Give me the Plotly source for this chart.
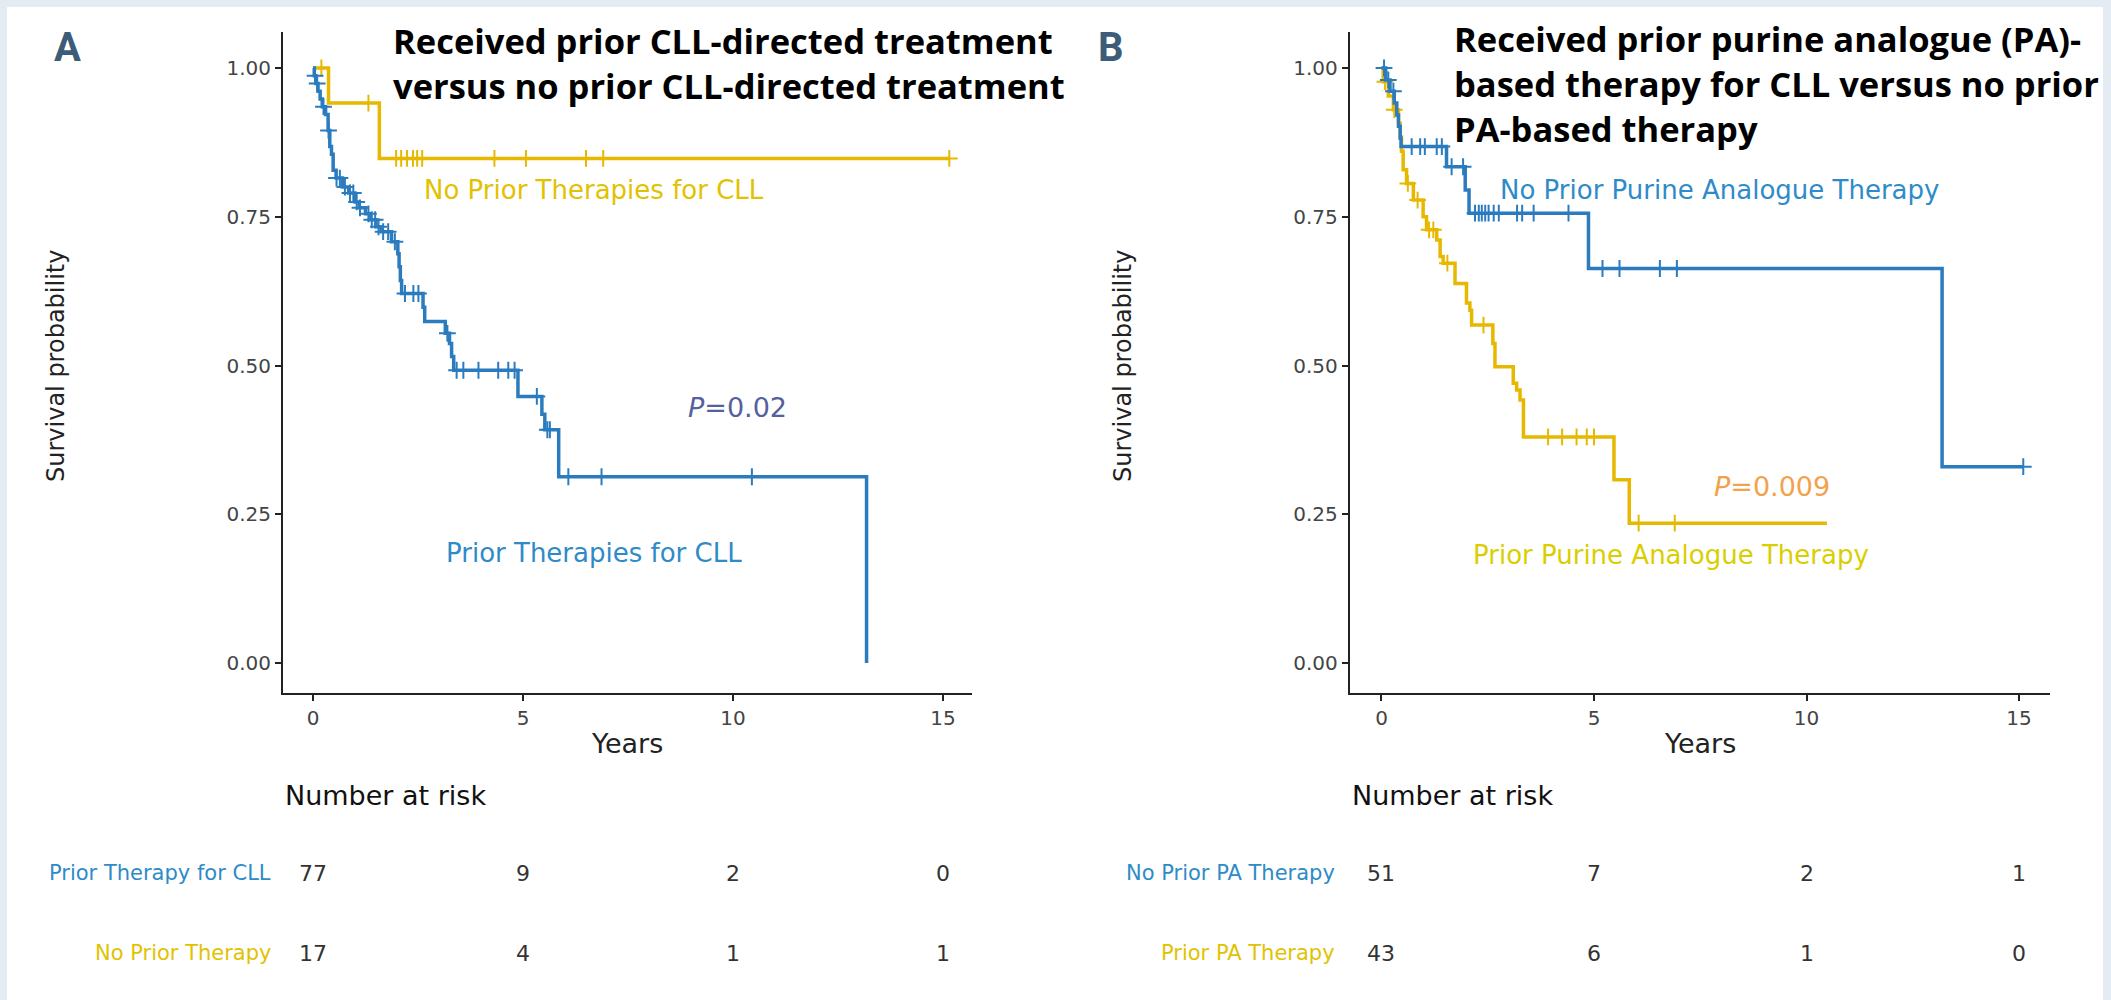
import plotly.graph_objects as go

W, H = 2111, 1000

# ---------------- data ----------------
year_ticks = [0, 5, 10, 15]
year_tick_text = ["0", "5", "10", "15"]
surv_ticks = [0.0, 0.25, 0.5, 0.75, 1.0]
surv_tick_text = ["0.00", "0.25", "0.50", "0.75", "1.00"]

# Panel A - prior CLL-directed treatment (step times / survival after each step)
a_prior_t = [0, 0.03, 0.07, 0.12, 0.17, 0.22, 0.30, 0.36, 0.40, 0.44, 0.48, 0.55,
             0.70, 0.85, 1.00, 1.10, 1.25, 1.35, 1.50, 1.62, 1.87, 2.02, 2.05,
             2.08, 2.11, 2.62, 2.66, 3.15, 3.25, 3.30, 3.35, 4.88, 5.45, 5.52,
             5.85, 13.18]
a_prior_s = [1.0, 0.987, 0.974, 0.961, 0.948, 0.935, 0.922, 0.895, 0.868, 0.855,
             0.828, 0.815, 0.800, 0.790, 0.775, 0.765, 0.755, 0.745, 0.733, 0.725,
             0.708, 0.688, 0.666, 0.643, 0.621, 0.598, 0.574, 0.554, 0.537, 0.515,
             0.492, 0.448, 0.418, 0.392, 0.313, 0.0]
a_prior_cens = [0.05, 0.10, 0.25, 0.37, 0.56, 0.64, 0.76, 0.88, 0.96, 1.04, 1.12,
                1.32, 1.40, 1.48, 1.56, 1.67, 1.79, 1.95, 2.19, 2.39, 2.51, 3.20,
                3.42, 3.58, 3.94, 4.41, 4.65, 4.80, 5.33, 5.58, 5.64, 6.08, 6.87,
                10.45]

# Panel A - no prior CLL-directed treatment
a_none_t = [0, 0.37, 1.58, 15.15]
a_none_s = [1.0, 0.941, 0.848, 0.848]
a_none_cens = [0.20, 1.32, 1.98, 2.10, 2.24, 2.38, 2.48, 2.60, 4.32, 5.07, 6.50,
               6.91, 15.15]

a_risk_prior = [77, 9, 2, 0]
a_risk_none = [17, 4, 1, 1]

# Panel B - no prior purine analogue therapy
b_nopa_t = [0, 0.10, 0.20, 0.30, 0.36, 0.40, 0.44, 0.46, 1.53, 1.97, 2.06, 4.87,
            13.19, 15.10]
b_nopa_s = [1.0, 0.980, 0.961, 0.941, 0.921, 0.902, 0.882, 0.868, 0.834, 0.795,
            0.756, 0.663, 0.330, 0.330]
b_nopa_cens = [0.06, 0.16, 0.28, 0.71, 0.91, 1.02, 1.30, 1.42, 1.65, 1.92, 2.20,
               2.29, 2.36, 2.44, 2.52, 2.64, 2.76, 3.19, 3.31, 3.58, 4.40, 5.20,
               5.60, 6.55, 6.95, 15.10]

# Panel B - prior purine analogue therapy
b_pa_t = [0, 0.04, 0.16, 0.28, 0.40, 0.44, 0.47, 0.51, 0.59, 0.75, 0.98, 1.06,
          1.30, 1.38, 1.45, 1.73, 2.00, 2.08, 2.12, 2.62, 2.67, 3.10, 3.18, 3.26,
          3.34, 5.47, 5.83, 10.48]
b_pa_s = [1.0, 0.977, 0.953, 0.930, 0.907, 0.884, 0.860, 0.829, 0.806, 0.778,
          0.750, 0.728, 0.711, 0.683, 0.672, 0.638, 0.605, 0.593, 0.568, 0.537,
          0.498, 0.470, 0.459, 0.442, 0.380, 0.308, 0.235, 0.235]
b_pa_cens = [0.08, 0.30, 0.62, 0.85, 1.12, 1.22, 1.55, 2.40, 3.92, 4.25, 4.59,
             4.83, 5.00, 6.05, 6.90]

b_risk_nopa = [51, 7, 2, 1]
b_risk_pa = [43, 6, 1, 0]

# ---------------- styling ----------------
BLUE = "#2b7bbf"
GOLD = "#E7B800"
LBL_BLUE = "#2e8bc8"
LBL_GOLD = "#e2c200"
LBL_LIME = "#d9cf00"
FONT = "DejaVu Sans, Liberation Sans, Arial, sans-serif"
TITLE_FONT = "Open Sans, Noto Sans, sans-serif"
LETTER_FONT = "Liberation Sans Narrow, Roboto, sans-serif"


def px(x):
    return x / W


def py(y):
    return 1 - y / H


def surv_at(times, surv, t):
    val = surv[0]
    for ti, si in zip(times, surv):
        if ti <= t:
            val = si
    return val


fig = go.Figure()


def add_curve(t, s, cens, color, xa, ya):
    fig.add_trace(go.Scatter(x=t, y=s, mode="lines", xaxis=xa, yaxis=ya,
                             line=dict(shape="hv", color=color, width=3.5),
                             hoverinfo="skip", showlegend=False))
    fig.add_trace(go.Scatter(x=cens, y=[surv_at(t, s, c) for c in cens],
                             mode="markers", xaxis=xa, yaxis=ya,
                             marker=dict(symbol="cross-thin", size=12,
                                         line=dict(width=2, color=color)),
                             hoverinfo="skip", showlegend=False))


add_curve(a_none_t, a_none_s, a_none_cens, GOLD, "x", "y")
add_curve(a_prior_t, a_prior_s, a_prior_cens, BLUE, "x", "y")
add_curve(b_pa_t, b_pa_s, b_pa_cens, GOLD, "x2", "y2")
add_curve(b_nopa_t, b_nopa_s, b_nopa_cens, BLUE, "x2", "y2")

# panel geometry (pixels)
A_LEFT, A_RIGHT = 283, 971.6
B_LEFT, B_RIGHT = 1349.7, 2050
TOP, BOTTOM = 32, 693
y_dom = [py(BOTTOM), py(TOP)]
y_rng = [-0.0504, 1.0605]

axis_common = dict(showline=True, linecolor="#222222", linewidth=2,
                   ticks="outside", ticklen=6, tickwidth=2, tickcolor="#222222",
                   tickfont=dict(family=FONT, size=20, color="#444444"),
                   showgrid=False, zeroline=False, fixedrange=True)

fig.update_layout(
    xaxis=dict(domain=[px(A_LEFT), px(A_RIGHT)], range=[-0.714, 15.681],
               tickvals=year_ticks, ticktext=year_tick_text, anchor="y",
               **axis_common),
    yaxis=dict(domain=y_dom, range=y_rng, tickvals=surv_ticks,
               ticktext=surv_tick_text, anchor="x", **axis_common),
    xaxis2=dict(domain=[px(B_LEFT), px(B_RIGHT)], range=[-0.748, 15.729],
                tickvals=year_ticks, ticktext=year_tick_text, anchor="y2",
                **axis_common),
    yaxis2=dict(domain=y_dom, range=y_rng, tickvals=surv_ticks,
                ticktext=surv_tick_text, anchor="x2", **axis_common),
)

ann = []


def text(x, y, s, size, color, family=FONT, xanchor="center", yanchor="middle",
         xref="paper", yref="paper", angle=0, align="center"):
    ann.append(dict(x=x, y=y, xref=xref, yref=yref, text=s, showarrow=False,
                    xanchor=xanchor, yanchor=yanchor, textangle=angle, align=align,
                    font=dict(family=family, size=size, color=color)))


# panel letters
text(px(67), py(47), "<b>A</b>", 40, "#3d5c78", family=LETTER_FONT)
text(px(1111), py(47), "<b>B</b>", 40, "#3d5c78", family=LETTER_FONT)

# panel titles
text(px(391), py(63), "<b>Received prior CLL-directed treatment<br>"
     "versus no prior CLL-directed treatment</b>", 34.5, "#000000",
     family=TITLE_FONT, xanchor="left", align="left")
text(px(1452), py(84), "<b>Received prior purine analogue (PA)-<br>"
     "based therapy for CLL versus no prior<br>PA-based therapy</b>", 34.5,
     "#000000", family=TITLE_FONT, xanchor="left", align="left")

# axis titles
for left, right, ytitle_x in [(A_LEFT, A_RIGHT, 56), (B_LEFT, B_RIGHT, 1123)]:
    text(px((left + right) / 2), py(743), "Years", 27, "#222222")
    text(px(ytitle_x), py(366), "Survival probability", 24, "#222222", angle=-90)

# curve labels (data coordinates)
text(6.68, 0.795, "No Prior Therapies for CLL", 26, LBL_GOLD, xref="x", yref="y")
text(6.68, 0.185, "Prior Therapies for CLL", 26, LBL_BLUE, xref="x", yref="y")
text(10.1, 0.429, "<i>P</i>=0.02", 27, "#55609e", xref="x", yref="y")
text(7.96, 0.795, "No Prior Purine Analogue Therapy", 26, LBL_BLUE, xref="x2", yref="y2")
text(6.82, 0.182, "Prior Purine Analogue Therapy", 26, LBL_LIME, xref="x2", yref="y2")
text(9.19, 0.296, "<i>P</i>=0.009", 27, "#f2a24c", xref="x2", yref="y2")

# number-at-risk tables
ROW1, ROW2 = 873, 953
tables = [
    ("x", A_LEFT, 273, "Prior Therapy for CLL", "No Prior Therapy", a_risk_prior, a_risk_none),
    ("x2", B_LEFT, 1337, "No Prior PA Therapy", "Prior PA Therapy", b_risk_nopa, b_risk_pa),
]
for xa, left, lab_right, lab1, lab2, r1, r2 in tables:
    text(px(left), py(795), "Number at risk", 27, "#111111", xanchor="left")
    text(px(lab_right), py(ROW1), lab1, 21, LBL_BLUE, xanchor="right")
    text(px(lab_right), py(ROW2), lab2, 21, LBL_GOLD, xanchor="right")
    for t, n1, n2 in zip(year_ticks, r1, r2):
        text(t, py(ROW1), str(n1), 22, "#333333", xref=xa)
        text(t, py(ROW2), str(n2), 22, "#333333", xref=xa)

fig.update_layout(
    annotations=ann,
    width=W, height=H, autosize=False,
    margin=dict(l=0, r=0, t=0, b=0),
    paper_bgcolor="#e4ebf2",
    plot_bgcolor="rgba(0,0,0,0)",
    shapes=[dict(type="rect", xref="paper", yref="paper", layer="below",
                 x0=px(7), x1=px(2103), y0=0, y1=py(7),
                 fillcolor="#ffffff", line=dict(width=0))],
    showlegend=False,
)

fig.write_html("out.html", config={"displayModeBar": False})
